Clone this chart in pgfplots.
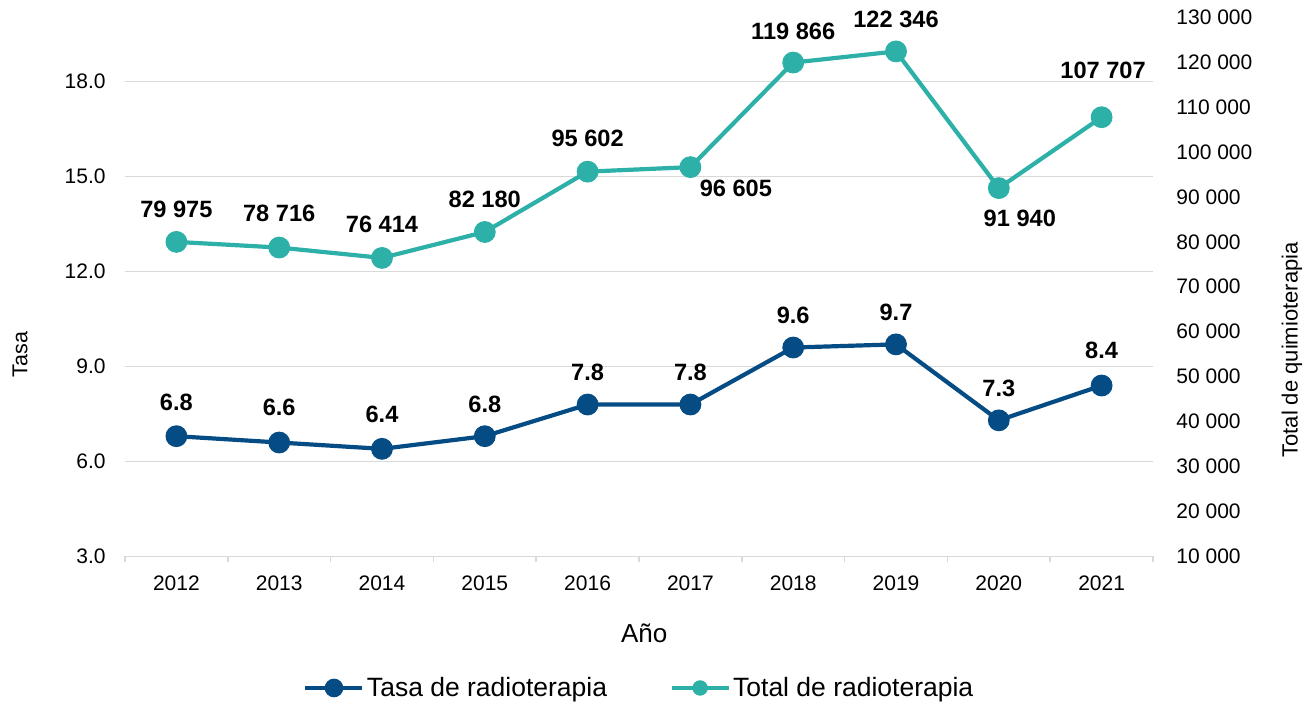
\documentclass[border=0pt]{standalone}
\usepackage{pgfplots}
\pgfplotsset{compat=1.18}
\usepackage{pgfplotstable}
\usepackage{fontspec}
\setmainfont{Liberation Sans}

\definecolor{darkblue}{RGB}{6,76,132}
\definecolor{teal2}{RGB}{44,176,167}
\definecolor{gridgray}{RGB}{217,217,217}

\pgfplotstableread[col sep=comma]{
x,y,label,dx,dy
0,6.8,6.8,0,17
1,6.6,6.6,0,17.5
2,6.4,6.4,0,17
3,6.8,6.8,0,16
4,7.8,7.8,0,16
5,7.8,7.8,0,16
6,9.6,9.6,0,16
7,9.7,9.7,0,16
8,7.3,7.3,0,16
9,8.4,8.4,0,17.5
}\ratetab

\pgfplotstableread[col sep=comma]{
x,y,label,dx,dy
0,79975,79 975,0,16.5
1,78716,78 716,0,17
2,76414,76 414,0,17
3,82180,82 180,0,16.5
4,95602,95 602,0,16.75
5,96605,96 605,22.75,-10.5
6,119866,119 866,0,15.75
7,122346,122 346,0,16
8,91940,91 940,10.5,-15
9,107707,107 707,0.75,23.5
}\totaltab

\pgfplotsset{
  common/.style={
    scale only axis, width=514pt, height=269.75pt,
    xmin=-0.5, xmax=9.5,
    clip=false,
    axis line style={draw=none},
    tick label style={font=\fontsize{10.5}{12}\selectfont},
    major tick length=0pt,
    ytick style={draw=none},
    scaled y ticks=false, scaled x ticks=false,
  },
  lbl/.style={
    nodes near coords,
    point meta=explicit symbolic,
    visualization depends on={\thisrow{dx}\as\labdx},
    visualization depends on={\thisrow{dy}\as\labdy},
    nodes near coords style={anchor=center, inner sep=0pt, xshift=\labdx pt, yshift=\labdy pt,
      font=\bfseries\fontsize{11.8}{14}\selectfont, text=black},
  },
}

\begin{document}
\begin{tikzpicture}
\useasboundingbox (-62.5pt,-74.75pt) rectangle (594pt,278.25pt);
\begin{axis}[common,
  ymin=3, ymax=20.04,
  xtick={0,...,9},
  xticklabels={2012,2013,2014,2015,2016,2017,2018,2019,2020,2021},
  xtick pos=bottom, ytick pos=left,
  minor xtick={-0.5,0.5,...,9.5},
  tick align=outside,
  minor tick length=3pt,
  minor x tick style={draw=gridgray, line width=0.8pt},
  major x tick style={draw=none},
  ytick={3,6,9,12,15,18},
  yticklabels={3.0,6.0,9.0,12.0,15.0,18.0},
  ymajorgrids, grid style={draw=gridgray, line width=0.8pt},
  yticklabel style={anchor=east, inner sep=0pt, xshift=-9.5pt},
  xticklabel style={anchor=center, inner sep=0pt, yshift=-13.25pt},
  xlabel={Año}, ylabel={Tasa},
  every axis x label/.style={at={(axis description cs:0.505,-0.1429)}, anchor=center, font=\fontsize{13}{15}\selectfont},
  every axis y label/.style={at={(axis description cs:-0.1021,0.3744)}, anchor=center, rotate=90, font=\fontsize{10.75}{12}\selectfont},
]
\addplot[darkblue, line width=2.1pt, mark=*, mark size=5.2pt, mark options={fill=darkblue, draw=darkblue, line width=0.5pt}, lbl]
  table[x=x, y=y, meta=label] {\ratetab};
\end{axis}
\begin{axis}[common,
  ymin=10000, ymax=130000,
  xtick=\empty,
  ytick pos=right, yticklabel pos=right,
  ytick={10000,20000,30000,40000,50000,60000,70000,80000,90000,100000,110000,120000,130000},
  yticklabels={10 000,20 000,30 000,40 000,50 000,60 000,70 000,80 000,90 000,100 000,110 000,120 000,130 000},
  yticklabel style={anchor=west, inner sep=0pt, xshift=11.5pt},
  ylabel={Total de quimioterapia},
  every axis y label/.style={at={(axis description cs:1.1352,0.3828)}, anchor=center, rotate=90, font=\fontsize{11}{13}\selectfont},
  legend columns=2,
  legend cell align=left,
  legend style={draw=none, fill=none, at={(axis description cs:0.5005,-0.2437)}, anchor=center,
    font=\fontsize{13.25}{15}\selectfont, inner sep=0pt,
    nodes={inner sep=1.2pt},
    /tikz/every even column/.append style={column sep=30pt}},
  legend image code/.code={\draw[#1, mark repeat=2, mark phase=2, mark size=3.6pt] plot coordinates {(0pt,0pt) (14.25pt,0pt) (28.5pt,0pt)};},
]
\addlegendimage{darkblue, line width=2.1pt, mark=*, mark options={fill=darkblue, draw=darkblue}}
\addlegendentry{Tasa de radioterapia}
\addplot[teal2, line width=2.1pt, mark=*, mark size=5.2pt, mark options={fill=teal2, draw=teal2, line width=0.5pt}, lbl]
  table[x=x, y=y, meta=label] {\totaltab};
\addlegendentry{Total de radioterapia}
\end{axis}
\end{tikzpicture}
\end{document}
